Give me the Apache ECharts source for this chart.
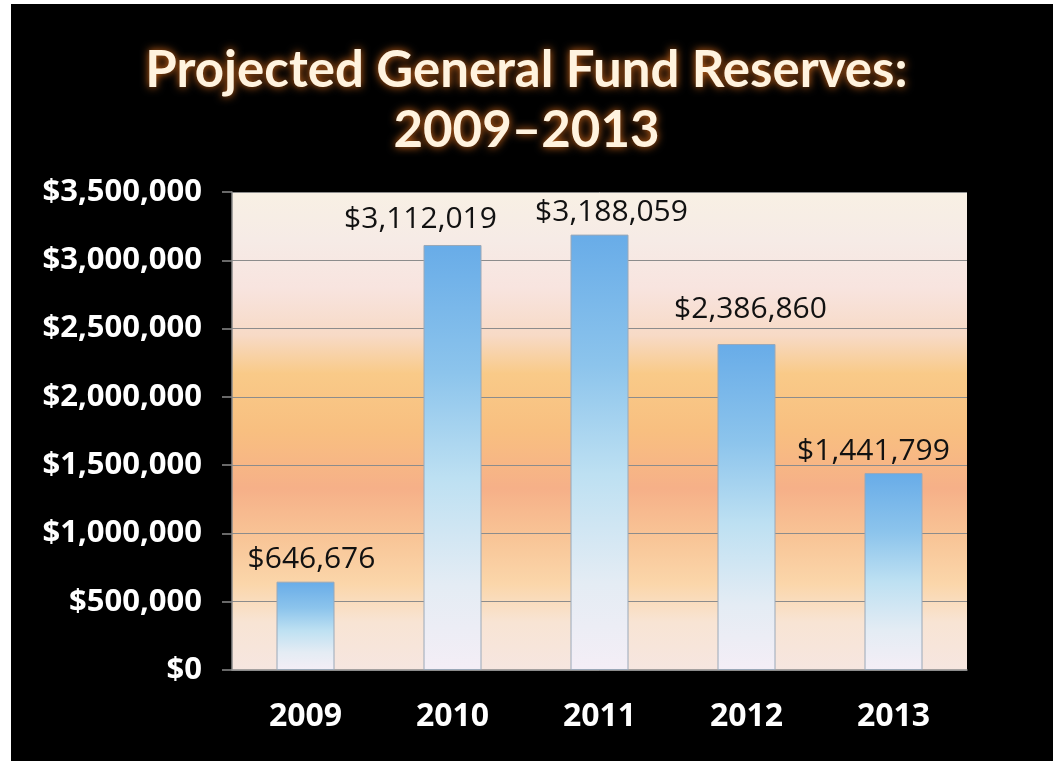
<!DOCTYPE html>
<html>
<head>
<meta charset="utf-8">
<script src="https://cdn.jsdelivr.net/npm/echarts@6/dist/echarts.min.js"></script>
<style>
html,body{margin:0;padding:0;background:#fff;}
#c{width:1053px;height:761px;}
</style>
</head>
<body>
<div id="c"></div>
<script>
const categories = ['2009', '2010', '2011', '2012', '2013'];
const reserves = [646676, 3112019, 3188059, 2386860, 1441799];
const yTicks = [0, 500000, 1000000, 1500000, 2000000, 2500000, 3000000, 3500000];
const titleLines = ['Projected General Fund Reserves:', '2009\u20132013'];

const money = v => '$' + Number(v).toLocaleString('en-US');
const TITLE_FONT = 'Lato, "Open Sans", sans-serif';
const FONT = '"Open Sans", Lato, sans-serif';

// label nudges (style only), matching the reference's hand-placed labels
const labelNudge = { '2009': [6, 0], '2010': [-32, -4], '2011': [12, 0], '2012': [4, -13], '2013': [-20, 0] };

const chart = echarts.init(document.getElementById('c'));
chart.setOption({
  backgroundColor: '#000',
  animation: false,
  graphic: [
    { type: 'rect', left: 0, top: 0, shape: { width: 11, height: 761 }, style: { fill: '#fff' }, silent: true },
    { type: 'rect', left: 0, top: 0, shape: { width: 1053, height: 4 }, style: { fill: '#fff' }, silent: true }
  ],
  title: {
    text: titleLines.join('\n'),
    left: 'center',
    top: 36,
    textStyle: {
      color: '#fff3df',
      fontFamily: TITLE_FONT,
      fontWeight: 'bold',
      fontSize: 51,
      lineHeight: 60,
      textShadowColor: '#e0701c',
      textShadowBlur: 8
    }
  },
  grid: {
    left: 232, top: 192, right: 86, bottom: 91,
    show: true,
    borderWidth: 0,
    backgroundColor: {
      type: 'linear', x: 0, y: 0, x2: 0, y2: 1,
      colorStops: [
        { offset: 0, color: '#f8f0e4' },
        { offset: 0.1, color: '#f6ebe6' },
        { offset: 0.2, color: '#f8e4df' },
        { offset: 0.3, color: '#f7dac6' },
        { offset: 0.38, color: '#f9ca88' },
        { offset: 0.5, color: '#f8bf80' },
        { offset: 0.62, color: '#f6b088' },
        { offset: 0.72, color: '#f8c496' },
        { offset: 0.82, color: '#fbd6aa' },
        { offset: 0.9, color: '#f8e4d4' },
        { offset: 1, color: '#f6e6e0' }
      ]
    }
  },
  xAxis: {
    type: 'category',
    data: categories,
    axisLine: { show: true, lineStyle: { color: '#8a8a8a', width: 1.5 } },
    axisTick: { show: false },
    axisLabel: {
      color: '#fff', fontFamily: FONT, fontWeight: 'bold', fontSize: 32, margin: 31
    }
  },
  yAxis: {
    type: 'value',
    min: yTicks[0],
    max: yTicks[yTicks.length - 1],
    interval: yTicks[1] - yTicks[0],
    axisLine: { show: true, lineStyle: { color: '#8a8a8a', width: 1.5 } },
    axisTick: { show: true, length: 10, lineStyle: { color: '#8a8a8a', width: 1.5 } },
    splitLine: { show: true, lineStyle: { color: '#8c8c8c', width: 1 } },
    axisLabel: {
      color: '#fff', fontFamily: FONT, fontWeight: 'bold', fontSize: 31, margin: 30,
      formatter: money
    }
  },
  series: [{
    type: 'bar',
    data: reserves.map((v, i) => ({
      value: v,
      label: { offset: labelNudge[categories[i]] || [0, 0] }
    })),
    barWidth: 58,
    itemStyle: {
      borderColor: '#9aa8b8',
      borderWidth: 1,
      color: {
        type: 'linear', x: 0, y: 0, x2: 0, y2: 1,
        colorStops: [
          { offset: 0, color: '#68ace8' },
          { offset: 0.3, color: '#8cc4ec' },
          { offset: 0.55, color: '#bde0f2' },
          { offset: 0.8, color: '#e4ecf4' },
          { offset: 1, color: '#f4eef6' }
        ]
      }
    },
    label: {
      show: true,
      position: 'top',
      distance: 7,
      color: '#111',
      fontFamily: FONT,
      fontSize: 30,
      formatter: p => money(p.value)
    }
  }]
});
</script>
</body>
</html>
